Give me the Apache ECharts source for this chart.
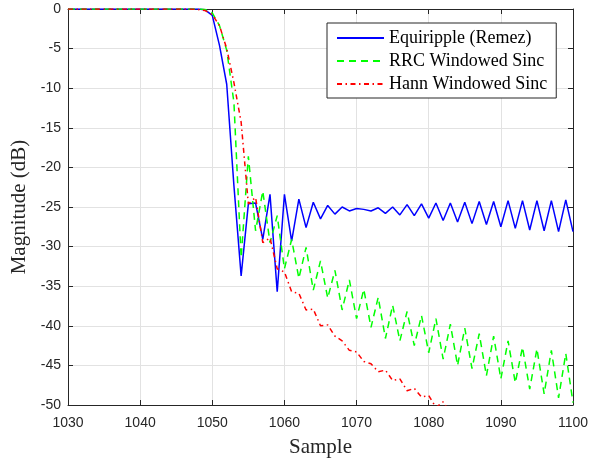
<!DOCTYPE html>
<html><head><meta charset="utf-8">
<script src="https://cdn.jsdelivr.net/npm/echarts@6/dist/echarts.min.js"></script>
<style>html,body{margin:0;padding:0;background:#fff}#c{width:602px;height:463px}</style>
</head><body><div id="c"></div>
<script>
const samples = [1030,1031,1032,1033,1034,1035,1036,1037,1038,1039,
  1040,1041,1042,1043,1044,1045,1046,1047,1048,1049,
  1050,1051,1052,1053,1054,1055,1056,1057,1058,1059,
  1060,1061,1062,1063,1064,1065,1066,1067,1068,1069,
  1070,1071,1072,1073,1074,1075,1076,1077,1078,1079,
  1080,1081,1082,1083,1084,1085,1086,1087,1088,1089,
  1090,1091,1092,1093,1094,1095,1096,1097,1098,1099,1100];

const equiripple = [0,0,0,0,0,0,0,0,0,0,
  0,0,0,0,0,0,0,0,0,-0.1,
  -0.8,-4.6,-9.5,-22.3,-33.7,-24.6,-24.5,-29.1,-23.4,-35.7,
  -23.4,-29.3,-24.0,-27.6,-24.4,-26.5,-24.8,-25.9,-25.0,-25.5,
  -25.2,-25.3,-25.5,-25.1,-25.8,-25.0,-26.0,-24.7,-26.1,-24.6,
  -26.4,-24.5,-26.7,-24.5,-26.9,-24.4,-27.1,-24.3,-27.2,-24.3,
  -27.5,-24.2,-27.7,-24.2,-27.9,-24.2,-28.0,-24.2,-28.1,-24.1,-28.1];

const rrcSinc = [0,0,0,0,0,0,0,0,0,0,
  0,0,0,0,0,0,0,0,0,-0.05,
  -0.5,-2.1,-5.2,-11.8,-31.4,-18.6,-28.0,-23.0,-29.5,-26.1,
  -32.8,-29.1,-34.0,-30.1,-35.5,-31.8,-36.5,-33.0,-38.0,-34.2,
  -39.1,-35.4,-40.2,-36.4,-41.6,-37.4,-41.9,-38.2,-42.5,-38.7,
  -43.4,-39.1,-44.2,-39.8,-45.0,-40.3,-45.4,-41.0,-46.3,-41.3,
  -46.7,-41.9,-47.2,-42.7,-48.0,-42.9,-48.6,-43.1,-49.1,-43.5,-49.7];

const hannSinc = [0,0,0,0,0,0,0,0,0,0,
  0,0,0,0,0,0,0,0,-0.05,-0.2,
  -0.7,-2.1,-5.0,-9.3,-14.3,-24.6,-23.8,-29.5,-28.9,-32.8,
  -33.2,-35.7,-35.9,-38.0,-37.9,-40.0,-39.9,-41.3,-41.9,-43.1,
  -43.3,-44.5,-44.8,-45.8,-45.6,-46.9,-46.7,-48.2,-47.9,-49.0,
  -48.8,-50.3,-49.6,-51.0];

const seriesNames = ['Equiripple (Remez)', 'RRC Windowed Sinc', 'Hann Windowed Sinc'];
const xRange = [1030, 1100, 10];
const yRange = [-50, 0, 5];

function pairs(vals) { return vals.map((v, i) => [samples[i], v]); }

const axisColor = '#262626';
const gridColor = '#e2e2e2';
const labelFont = { fontFamily: 'Liberation Sans', fontSize: 14, color: axisColor };
const nameFont = { fontFamily: 'Liberation Serif', fontSize: 21, color: axisColor };

function xAx(pos, main) {
  return {
    type: 'value', min: xRange[0], max: xRange[1], interval: xRange[2], position: pos,
    name: main ? 'Sample' : '', nameLocation: 'middle', nameGap: 32, nameTextStyle: nameFont,
    axisLine: { show: true, onZero: false, lineStyle: { color: axisColor, width: 1 } },
    axisTick: { show: true, inside: true, length: 5, lineStyle: { color: axisColor } },
    axisLabel: Object.assign({ show: main, margin: 11, formatter: v => String(v) }, labelFont),
    splitLine: { show: main, lineStyle: { color: gridColor, width: 1 } }
  };
}
function yAx(pos, main) {
  return {
    type: 'value', min: yRange[0], max: yRange[1], interval: yRange[2], position: pos,
    name: main ? 'Magnitude (dB)' : '', nameLocation: 'middle', nameGap: 32, nameTextStyle: nameFont,
    axisLine: { show: true, onZero: false, lineStyle: { color: axisColor, width: 1 } },
    axisTick: { show: true, inside: true, length: 5, lineStyle: { color: axisColor } },
    axisLabel: Object.assign({ show: main, margin: 7, formatter: v => String(v) }, labelFont),
    splitLine: { show: main, lineStyle: { color: gridColor, width: 1 } }
  };
}

const chart = echarts.init(document.getElementById('c'), null, { renderer: 'canvas' });
chart.setOption({
  animation: false,
  backgroundColor: '#fff',
  grid: { left: 68, right: 29, top: 9, bottom: 57 },
  xAxis: [xAx('bottom', true), xAx('top', false)],
  yAxis: [yAx('left', true), yAx('right', false)],
  legend: {
    orient: 'vertical', left: 327, top: 23,
    padding: [6, 9, 5, 9], itemGap: 5, itemWidth: 47, itemHeight: 16,
    backgroundColor: '#fff', borderColor: axisColor, borderWidth: 1, borderRadius: 0,
    itemStyle: { opacity: 0 },
    textStyle: { fontFamily: 'Liberation Serif', fontSize: 18, color: '#000' },
    data: seriesNames
  },
  series: [
    { name: seriesNames[0], type: 'line', data: pairs(equiripple), symbol: 'none', showSymbol: false,
      lineStyle: { color: '#0000ff', width: 1.5, type: 'solid' }, itemStyle: { color: '#0000ff' } },
    { name: seriesNames[1], type: 'line', data: pairs(rrcSinc), symbol: 'none', showSymbol: false,
      lineStyle: { color: '#00ff00', width: 1.5, type: [7, 5] }, itemStyle: { color: '#00ff00' } },
    { name: seriesNames[2], type: 'line', data: pairs(hannSinc), symbol: 'none', showSymbol: false,
      lineStyle: { color: '#ff0000', width: 1.5, type: [5, 3.5, 1.5, 3.5] }, itemStyle: { color: '#ff0000' } }
  ]
});
</script>
</body></html>
